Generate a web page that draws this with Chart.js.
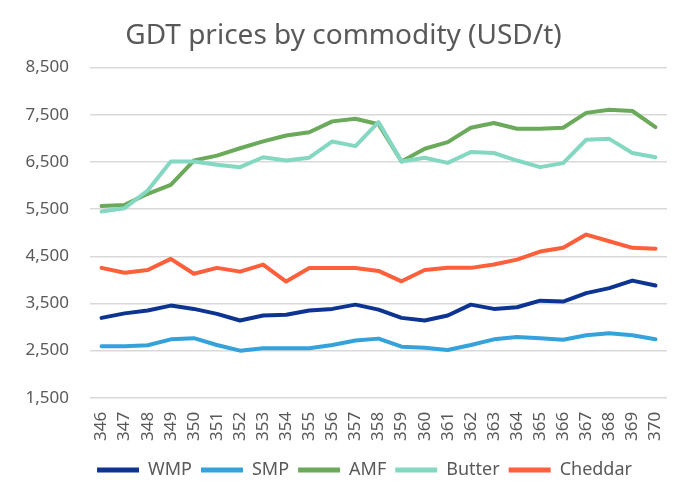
<!DOCTYPE html>
<html>
<head>
<meta charset="utf-8">
<script src="https://cdn.jsdelivr.net/npm/chart.js@4/dist/chart.umd.min.js"></script>
<style>
  html, body { margin: 0; padding: 0; background: #fff; }
  #wrap { width: 688px; height: 498px; }
</style>
</head>
<body>
<div id="wrap"><canvas id="gdt" width="688" height="498"></canvas></div>
<script>
// GDT auction events 346..370
var events = ['346','347','348','349','350','351','352','353','354','355','356','357','358',
              '359','360','361','362','363','364','365','366','367','368','369','370'];

var wmp     = [3195,3290,3350,3455,3385,3280,3140,3245,3260,3350,3385,3475,3370,3195,3140,3245,3475,3385,3420,3560,3540,3720,3825,3985,3880];
var smp     = [2595,2595,2615,2740,2765,2620,2500,2550,2550,2550,2620,2715,2755,2585,2560,2515,2620,2740,2790,2765,2730,2825,2870,2825,2740];
var amf     = [5565,5590,5825,6015,6530,6635,6790,6935,7060,7130,7360,7415,7300,6510,6780,6920,7225,7325,7205,7205,7225,7540,7605,7580,7240];
var butter  = [5450,5520,5895,6510,6510,6440,6390,6600,6530,6590,6935,6835,7345,6510,6590,6480,6710,6690,6530,6390,6475,6970,6990,6690,6600];
var cheddar = [4255,4150,4210,4445,4130,4255,4175,4325,3965,4250,4250,4250,4190,3970,4210,4255,4255,4325,4430,4600,4680,4960,4820,4680,4660];

var names  = ['WMP','SMP','AMF','Butter','Cheddar'];
var colors = ['#0c3490','#34a3dc','#6aaa5a','#84d8c2','#ff5f3a'];
var series = [wmp, smp, amf, butter, cheddar];

var textGrey = '#595959';
var font = "'Noto Sans', sans-serif";

function line(i) {
    return {
        label: names[i],
        data: series[i],
        borderColor: colors[i],
        backgroundColor: colors[i],
        borderWidth: 4,
        borderJoinStyle: 'round',
        borderCapStyle: 'round',
        pointRadius: 0,
        tension: 0,
        fill: false,
        order: 5 - i   // later series drawn on top, like the original
    };
}

// nudge the legend a bit left/up, where Excel had it
var legendNudge = {
    id: 'legendNudge',
    beforeDraw: function (chart) {
        var lg = chart.legend;
        if (!lg || lg._nudged) return;
        lg.left -= 14; lg.right -= 14;
        lg.top -= 3; lg.bottom -= 3;
        lg._nudged = true;
    }
};

var ctx = document.getElementById('gdt').getContext('2d');
new Chart(ctx, {
    type: 'line',
    data: {
        labels: events,
        datasets: [0,1,2,3,4].map(line)
    },
    plugins: [legendNudge],
    options: {
        responsive: false,
        animation: false,
        layout: { padding: { left: 20, right: 21, top: 0, bottom: 6 } },
        plugins: {
            title: {
                display: true,
                text: 'GDT prices by commodity (USD/t)',
                color: textGrey,
                font: { family: font, size: 28, weight: 'normal' },
                padding: { top: 19, bottom: 15 }
            },
            legend: {
                position: 'bottom',
                fullSize: false,
                labels: {
                    color: textGrey,
                    font: { family: font, size: 18 },
                    boxWidth: 42,
                    boxHeight: 5,
                    padding: 9,
                    sort: function (a, b) { return a.datasetIndex - b.datasetIndex; },
                    generateLabels: function (chart) {
                        var items = Chart.defaults.plugins.legend.labels.generateLabels(chart);
                        items.forEach(function (it) { it.lineWidth = 0; });
                        return items;
                    }
                }
            },
            tooltip: { enabled: false }
        },
        scales: {
            x: {
                offset: true,
                grid: { display: false, drawTicks: false },
                border: { display: false },
                ticks: {
                    color: textGrey,
                    font: { family: font, size: 17 },
                    minRotation: 90,
                    maxRotation: 90,
                    autoSkip: false,
                    padding: 14
                },
                afterFit: function (s) { s.paddingLeft = 0; s.paddingRight = 0; }
            },
            y: {
                min: 1500,
                max: 8500,
                grid: { color: '#d9d9d9', lineWidth: 1.5, drawTicks: false },
                border: { display: false },
                ticks: {
                    stepSize: 1000,
                    color: textGrey,
                    font: { family: font, size: 17 },
                    padding: 21
                },
                afterFit: function (s) { s.width = 70; }
            }
        }
    }
});
</script>
</body>
</html>
